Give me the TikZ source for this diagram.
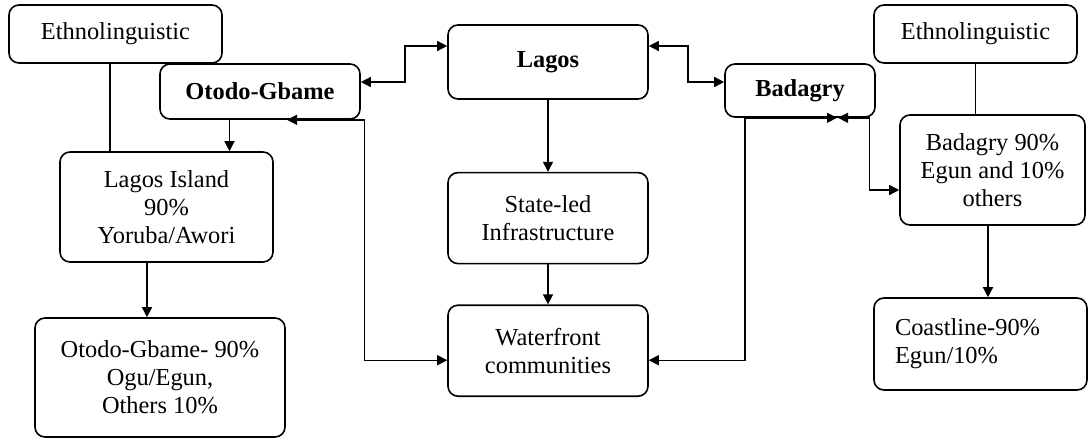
\documentclass[tikz,border=0pt]{standalone}
\usepackage{fontspec}
\setmainfont{Liberation Serif}
\newfontfamily\boxfont{Liberation Serif}
\usetikzlibrary{positioning, arrows.meta, calc}

\begin{document}
\begin{tikzpicture}[
  x=0.5pt, y=-0.5pt,
  every node/.style={font=\boxfont\fontsize{12.2}{14}\selectfont},
  boxnode/.style={draw, rounded corners=5pt, line width=0.8pt, align=center, inner sep=2pt},
  plainedge/.style={draw, line width=0.7pt},
  arrowedge/.style={draw, line width=0.7pt, -{Triangle[length=5pt,width=5pt]}},
  twoedge/.style={draw, line width=0.7pt, {Triangle[length=5pt,width=5pt]}-{Triangle[length=5pt,width=5pt]}}
]
\useasboundingbox (0,0) rectangle (1088,440);

% middle column
\node (lagos) at (548,62) [boxnode, minimum width=100pt, minimum height=37pt] {\textbf{Lagos}};
\node[below=36pt of lagos, boxnode, minimum width=100pt, minimum height=45.5pt] (state) {State-led\\Infrastructure};
\node[below=20pt of state, boxnode, minimum width=100pt, minimum height=45.5pt] (water) {Waterfront\\communities};

% left side
\node (ethL) at (115.5,34) [boxnode, minimum width=106.5pt, minimum height=29pt] {Ethnolinguistic};
\node (otodo) at (260,91.5) [boxnode, minimum width=100pt, minimum height=27.5pt] {\textbf{Otodo-Gbame}};
\node (island) at (166.5,207) [boxnode, minimum width=106.5pt, minimum height=55pt] {Lagos Island\\90\%\\Yoruba/Awori};
\node (otodoEth) at (160,377.5) [boxnode, minimum width=125pt, minimum height=59.5pt] {Otodo-Gbame- 90\%\\Ogu/Egun,\\Others 10\%};

% right side
\node (badagry) at (800,90.5) [boxnode, minimum width=75pt, minimum height=26.5pt] {\textbf{Badagry}};
\node (ethR) at (975.5,34) [boxnode, minimum width=101.5pt, minimum height=29pt] {Ethnolinguistic};
\node (bad90) at (992.5,170) [boxnode, minimum width=92.5pt, minimum height=55pt] {Badagry 90\%\\Egun and 10\%\\others};
\node (coast) at (980.5,344) [boxnode, align=left, text width=85.5pt, inner xsep=10.5pt, minimum height=46pt] {Coastline-90\%\\Egun/10\%\\[4pt]};

% vertical links
\draw[plainedge] ([xshift=-2.75pt]ethL.south) -- ([xshift=-2.75pt]ethL.south |- island.north);
\draw[arrowedge] ([xshift=-15.25pt]otodo.south) -- ([xshift=-15.25pt]otodo.south |- island.north);
\draw[arrowedge] ([xshift=-9.75pt]island.south) -- ([xshift=-9.75pt]island.south |- otodoEth.north);
\draw[arrowedge] (lagos) -- (state);
\draw[arrowedge] (state) -- (water);
\draw[plainedge] (ethR.south) -- (ethR.south |- bad90.north);
\draw[arrowedge] ([xshift=-2.25pt]bad90.south) -- ([xshift=-2.25pt]bad90.south |- coast.north);

% links round Lagos
\draw[twoedge] ([yshift=4.75pt]otodo.east) -- ++(22pt,0) |- ([yshift=8pt]lagos.west);
\draw[twoedge] ([yshift=8pt]lagos.east) -- ++(19.5pt,0) |- ([yshift=4.25pt]badagry.west);

% links to the waterfront
\draw[twoedge] ([yshift=-4.75pt]water.west) -- ++(-41.5pt,0) |- ([xshift=13.5pt]otodo.south);
\draw[twoedge] ([yshift=-4.75pt]water.east) -- ++(48pt,0) |- ([xshift=18.5pt]badagry.south);
\draw[twoedge] ([yshift=-10pt]bad90.west) -- ++(-15pt,0) |- ([xshift=19pt]badagry.south);

\end{tikzpicture}
\end{document}
